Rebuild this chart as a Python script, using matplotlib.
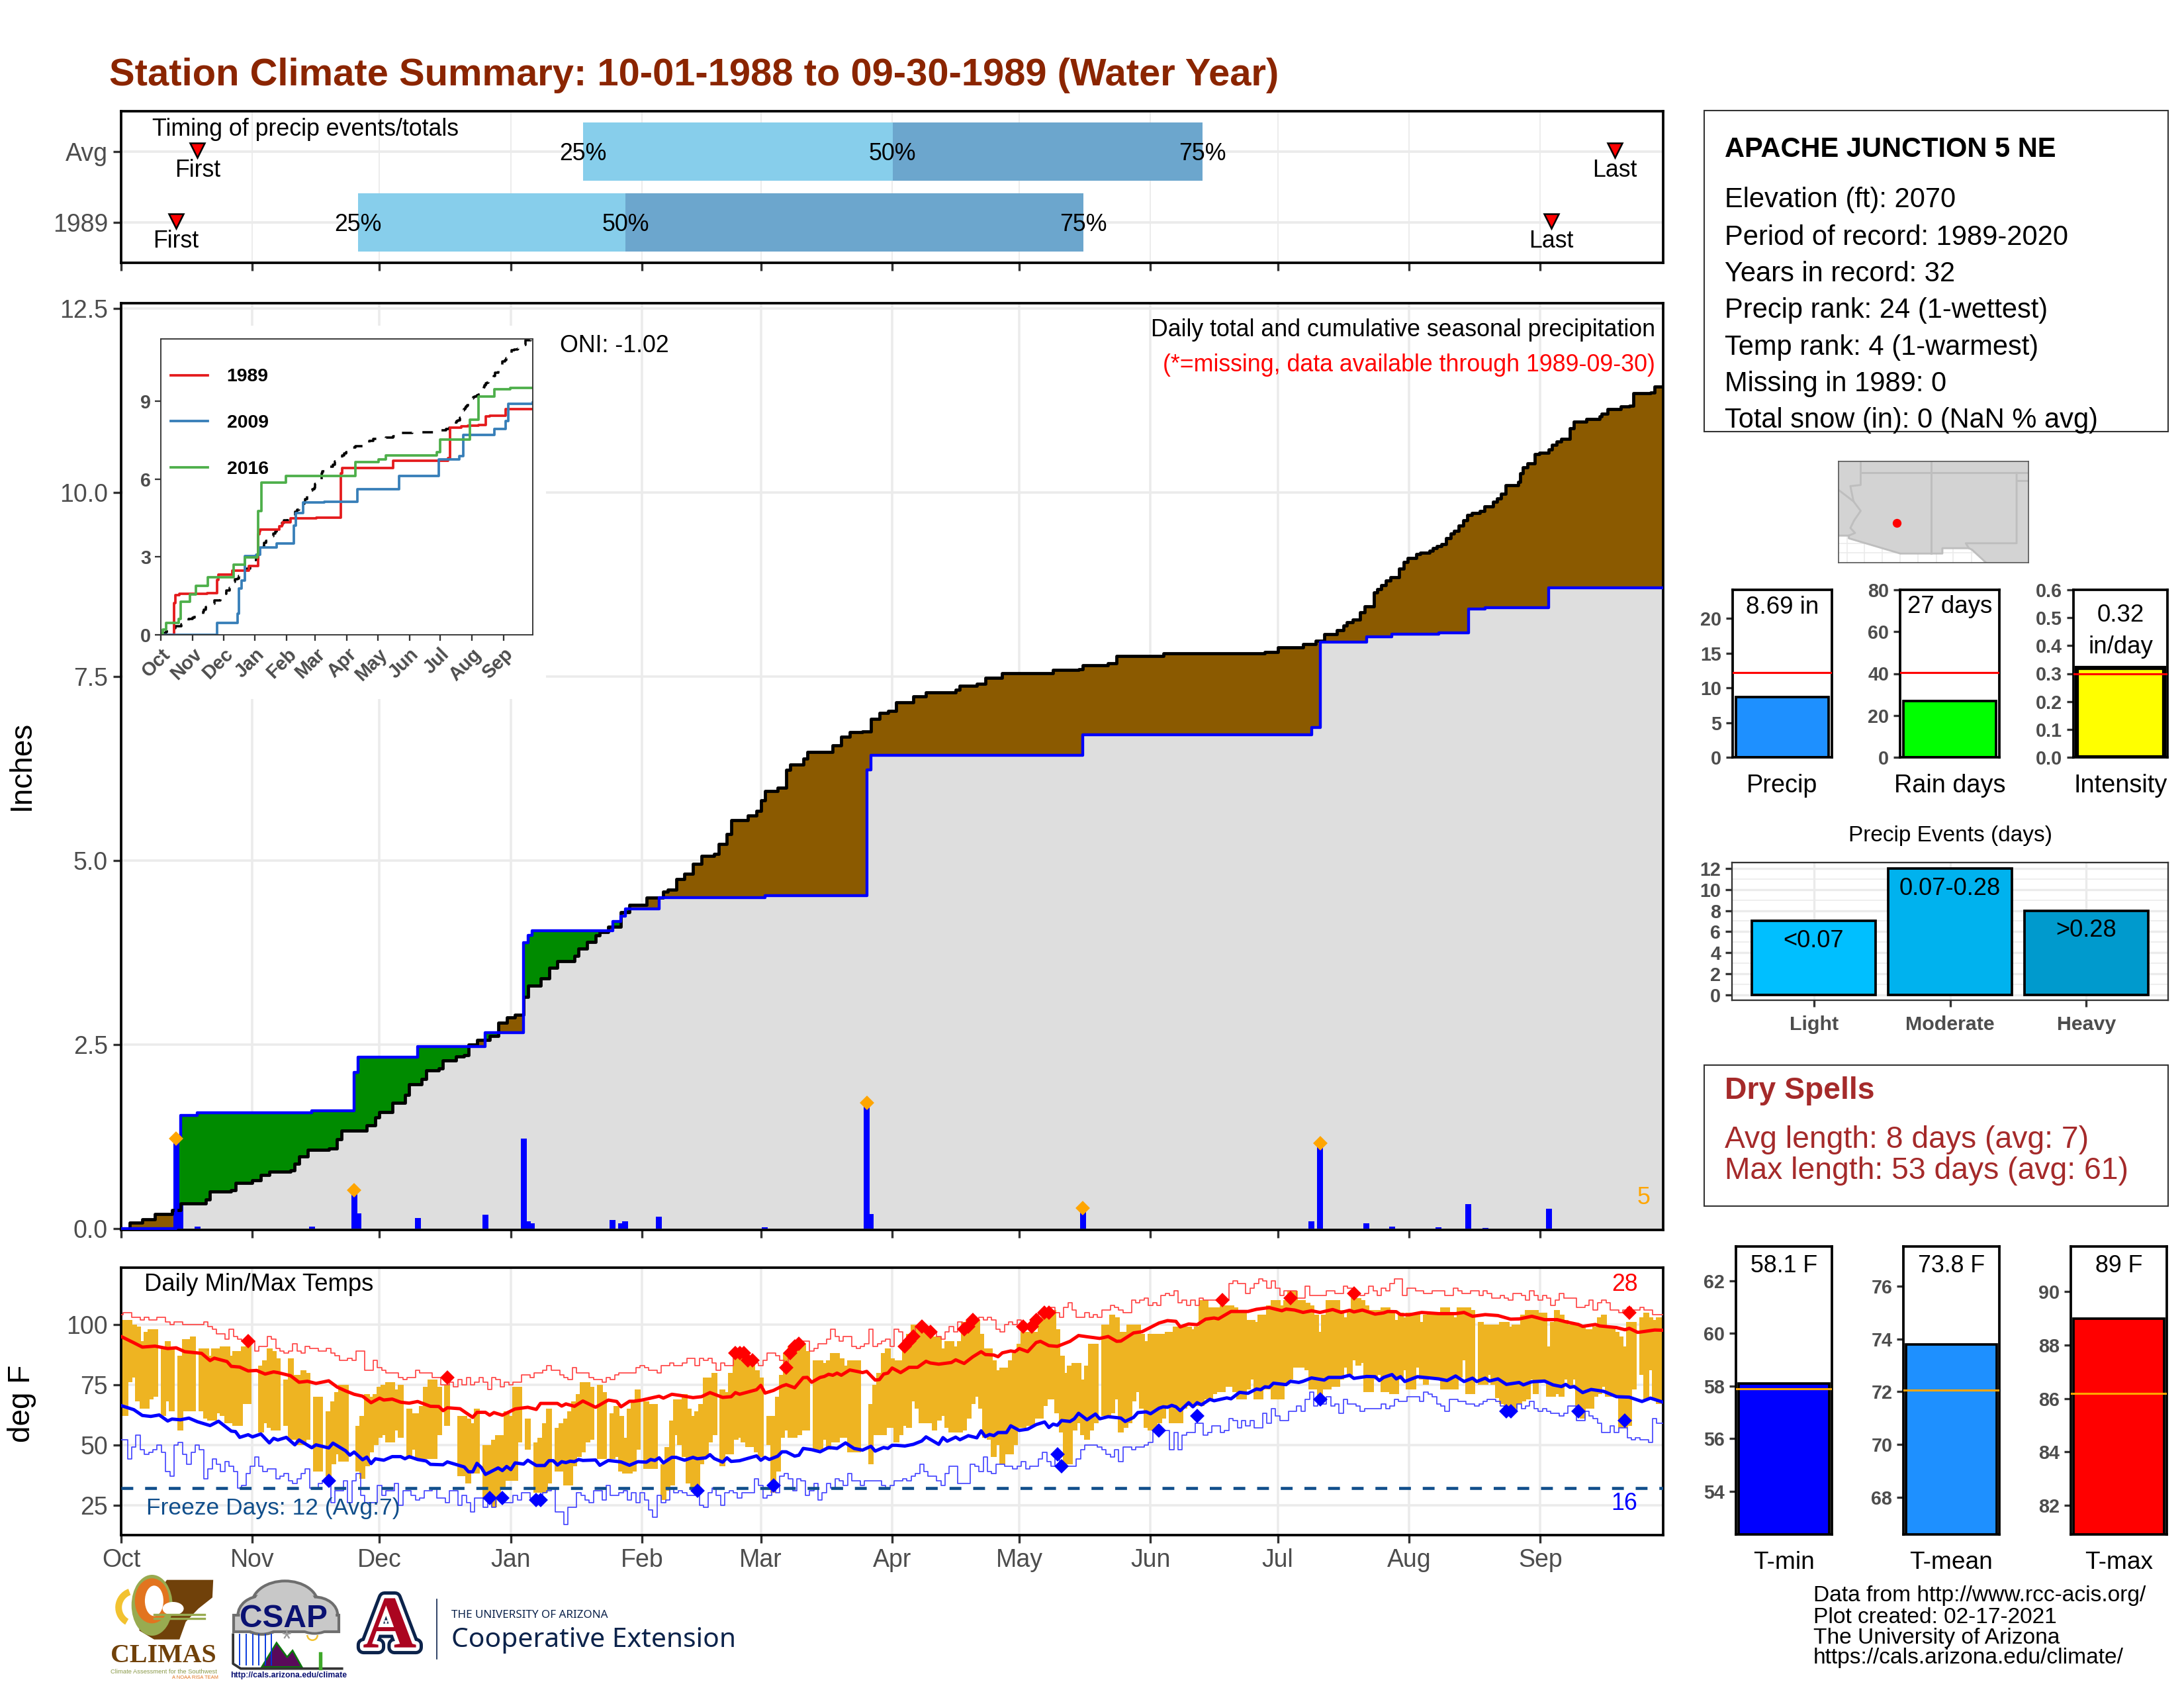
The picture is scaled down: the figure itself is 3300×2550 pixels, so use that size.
import numpy as np
import matplotlib
matplotlib.use('Agg')
import matplotlib.pyplot as plt
from matplotlib.patches import Rectangle, Polygon, Ellipse, Wedge
import matplotlib.patheffects as pe

plt.rcParams['font.family'] = ['Liberation Sans', 'DejaVu Sans']
N = np.nan

MONTH_DAYS = [0, 31, 61, 92, 123, 151, 182, 212, 243, 273, 304, 335]
MONTHS = ['Oct', 'Nov', 'Dec', 'Jan', 'Feb', 'Mar', 'Apr', 'May', 'Jun', 'Jul', 'Aug', 'Sep']

# ---- timing panel (day of water year)
TIMING_ROWS = ['1989', 'Avg']
Q25 = [55.9, 109]
Q50 = [119.1, 182.1]
Q75 = [227.2, 255.2]
FIRST = [12.9, 18]
LAST = [337.6, 352.6]

# ---- cumulative precipitation
AVG_DAY = [0, 2, 5, 8, 12, 14, 20, 21, 26, 27, 31, 33, 35, 40, 41, 42, 44, 49, 51, 52, 58, 60, 61, 63, 64, 67, 68, 71, 72, 75, 76,
           79, 81, 82, 84, 87, 89, 91, 93, 95, 96, 99, 101, 103, 107, 108, 110, 112, 113, 115, 118, 120, 124, 128, 129, 131, 133,
           135, 137, 140, 141, 143, 144, 148, 150, 151, 152, 155, 157, 158, 161, 162, 168, 170, 172, 175, 177, 179, 181, 183, 187,
           190, 197, 198, 202, 204, 208, 216, 220, 226, 227, 233, 235, 246, 270, 273, 279, 282, 284, 287,
           288.6, 289.4, 290.7, 292.5, 293.6, 295.7, 296.5, 297.5, 298.6, 299.6, 301.6, 302.7, 303.7, 305.7, 306.7, 308.8, 309.6, 310.6, 311.7,
           312.7, 313.8, 314.7, 315.8, 316.8, 317.7, 318.8, 320.7, 321.8, 323.8, 324.8, 325.8, 326.8, 329.8, 330.2, 330.9, 331.9, 333.7, 334.8,
           336.9, 337.8, 338.9, 340, 341.9, 342.9, 345.8, 349, 349.4, 350.8, 354, 356, 357, 361, 362, 364]
AVG_CUM = [0, .08, .13, .2, .25, .34, .40, .50, .52, .62, .66, .73, .77, .79, .88, .98, 1.07, 1.09, 1.21, 1.33, 1.40, 1.51, 1.58, 1.58, 1.71, 1.82, 1.96,
           2.03, 2.15, 2.18, 2.28, 2.34, 2.36, 2.5, 2.56, 2.62, 2.8, 2.87, 2.9, 3.15, 3.3, 3.4, 3.54, 3.63, 3.70, 3.8, 3.89, 3.98, 4.03, 4.1, 4.3, 4.4,
           4.5, 4.58, 4.6, 4.75, 4.82, 4.95, 5.06, 5.09, 5.22, 5.36, 5.55, 5.61, 5.67, 5.82, 5.94, 5.99, 6.23, 6.30, 6.38, 6.47, 6.56, 6.68, 6.74,
           6.75, 6.92, 7.0, 7.03, 7.15, 7.23, 7.28, 7.32, 7.37, 7.4, 7.48, 7.54, 7.54, 7.59, 7.6, 7.65, 7.68, 7.78, 7.81, 7.83, 7.89, 7.94, 7.98, 8.07, 8.13,
           8.19, 8.24, 8.27, 8.37, 8.45, 8.64, 8.69, 8.74, 8.80, 8.85, 8.96, 9.05, 9.11, 9.16, 9.18, 9.21, 9.24, 9.27, 9.30,
           9.38, 9.44, 9.48, 9.55, 9.62, 9.69, 9.72, 9.75, 9.81, 9.87, 9.92, 9.98, 10.1, 10.14, 10.26, 10.34, 10.39, 10.52, 10.54,
           10.58, 10.65, 10.69, 10.73, 10.87, 10.96, 11.0, 11.03, 11.07, 11.13, 11.17, 11.18, 11.35, 11.36, 11.44, 11.44]
RAIN_DAY = [13, 14, 18, 45, 55, 56, 70, 86, 95, 96, 97, 116, 118, 119, 127, 152, 176, 177, 227, 281, 283, 294, 300, 311, 318, 322, 337]
RAIN_IN = [1.22, .32, .03, .03, .52, .21, .14, .19, 1.22, .10, .07, .12, .07, .10, .16, .02, 1.71, .20, .28, .10, 1.16, .07, .03, .02, .33, .01, .27]
TOP_DAY = [13, 55, 176, 227, 283]
TOP_IN = [1.22, .52, 1.71, .28, 1.16]

# ---- inset comparison years
Y2009_DAY = [0, 55, 75, 76, 79, 82, 93, 97, 113, 130, 132, 139, 160, 192, 233, 272, 292, 296, 326, 337, 340, 364]
Y2009_CUM = [0, .45, .82, 1.78, 2.09, 3.03, 3.08, 3.37, 3.51, 4.22, 4.69, 5.1, 5.13, 5.6, 6.12, 6.77, 6.88, 7.71, 7.93, 8.24, 8.91, 8.96]
Y2016_DAY = [0, 2, 5, 17, 19, 28, 34, 46, 71, 82, 94, 95, 98, 122, 190, 213, 220, 270, 273, 302, 311, 326, 342, 364]
Y2016_CUM = [0, .2, .45, .6, 1.27, 1.55, 1.89, 2.23, 2.71, 2.99, 3.1, 4.78, 5.86, 6.12, 6.66, 6.77, 6.92, 7.05, 7.53, 8.3, 9.18, 9.46, 9.51, 9.52]

# ---- daily temperature range
TMAX = [102,102,102,100,99,93,97,98,98,N, 90,93,90,N,87,94,94,95,N,90, 90,87,90,90,91,91,87,89,89,91,
        92,N,N,83,85,90,89,86,N,77, 86,79,79,81,80,N,70,70,N,64, 68,72,75,75,N,N,58,62,71,70,
        71,74,75,76,76,73,75,N,65,63, 63,66,74,77,77,74,N,75,N,N, 62,62,61,59,65,N,50,50,52,54,
        54,64,62,74,74,N,61,N,51,53, 59,65,N,57,59,61,64,68,71,76, 76,74,N,75,72,N,63,66,62,53,
        65,68,73,N,68,67,67,N,42,49, 60,69,69,71,65,62,64,67,78,78, 80,N,73,72,80,87,87,87,87,87,
        81,78,N,62,62,70,79,88,91,91, 92,92,89,N,85,85,84,85,88,88, 86,83,85,85,85,N,N,67,75,80,
        88,90,86,85,85,92,96,100,100,97, 97,97,95,95,90,93,93,91,93,101, 102,102,102,96,90,90,85,81,82,82,
        85,88,92,97,97,97,97,103,106,106, 106,98,87,80,83,84,84,77,83,92, 92,N,100,100,104,103,97,97,100,100,
        100,96,93,96,96,96,96,97,97,99, 99,99,99,98,99,110,110,107,107,107, 108,108,108,107,106,106,102,102,101,104,
        104,108,110,110,108,110,114,114,110,110, 109,108,104,97,104,110,110,110,106,103, 106,111,111,110,108,106,106,106,107,107,
        106,102,105,103,105,105,105,101,104,105, 105,105,107,107,105,103,107,107,107,106, N,101,100,100,100,100,101,101,99,100,
        100,104,106,106,106,105,105,91,101,106, 104,102,100,100,100,100,98,98,99,103, 104,99,99,97,95,91,101,101,N,103,
        105,103,102,103,103]
TMIN = [62,62,76,78,68,65,65,69,70,N, 62,68,64,N,56,64,64,64,N,64, 61,60,60,63,62,59,59,58,58,67,
        67,N,N,55,59,57,56,56,N,58, 52,52,50,50,52,N,39,39,N,37, 42,46,43,43,N,N,39,36,41,47,
        50,53,54,51,51,56,53,N,44,48, 44,44,44,44,44,54,N,58,N,N, 37,37,34,38,38,N,28,28,24,28,
        32,35,35,35,51,N,48,N,30,30, 30,34,N,39,39,33,33,41,45,47, 51,52,N,44,44,N,44,45,39,38,
        38,39,48,N,40,40,40,N,27,31, 33,54,50,45,34,32,32,42,45,51, 54,N,41,46,46,52,53,51,49,49,
        47,45,N,50,30,39,53,56,53,53, 54,56,56,N,48,48,52,48,51,51, 53,53,47,47,47,N,N,42,54,54,
        54,57,57,51,54,58,57,68,65,59, 59,59,56,60,62,57,55,55,55,56, 61,67,70,65,53,52,45,50,42,46,
        46,50,57,57,58,58,61,61,66,69, 69,63,55,42,42,56,59,54,52,56, 59,N,62,62,63,69,55,57,59,68,
        72,65,57,56,56,59,61,65,59,59, 59,65,66,66,66,66,69,69,71,72, 72,74,74,72,69,69,73,77,69,69,
        73,73,69,69,69,75,77,82,82,82, 81,73,73,69.5,73,73,74,74,77,82, 79,85,83,84,72,72,77,79,72,72,
        71,71,77,81,73,73,82,77,75,77, 77,77,73,73,73,73,78,85,71,71, N,75,75,79,75,69.5,67,65,65,65,
        67,68,69,77,71,76,76,70,70,71, 70,77,74,77,62,61,65,65,70,71, 74,70,70,70,57,57,58,73,N,79,
        69,81,69,67,67]

# ---- daily records
REC_HI = [104,105,105,103,103,102,103,102,102,103, 103,101,100,101,101,100,100,100,100,100, 101,99,98,96,96,94,98,95,94,93,
          93,93,89,91,91,95,94,90,89,88, 89,92,89,88,91,90,90,89,89,90, 88,87,85,85,86,85,89,89,81,81,
          85,82,81,80,80,80,78,77,78,78, 81,80,80,80,78,78,75,75,76,74, 77,75,78,75,76,78,76,73,78,77,
          74,76,75,76,76,79,79,78,80,80, 81,83,81,81,79,78,77,82,80,80, 80,78,77,77,76,78,77,79,80,80,
          80,80,82,83,82,81,81,80,83,83, 84,83,83,84,86,86,83,86,85,86, 84,81,84,83,83,88,88,88,85,85,
          84,83,85,88,88,87,85,82,88,91, 92,93,93,89,90,92,92,94,98,95, 93,95,95,91,90,91,92,98,91,92,
          93,94,91,98,97,92,93,95,99,99, 99,97,97,95,94,97,99,97,101,98, 99,102,102,103,102,103,102,98,97,100,
          101,100,102,99,100,99,102,105,105,105, 107,105,103,107,109,106,103,103,105,103, 104,103,106,106,108,107,106,105,105,110,
          109,110,111,108,109,108,112,113,112,114, 109,110,108,110,108,111,110,110,110,110, 110,110,117,118,117,117,113,115,117,119,
          118,115,118,115,112,114,114,114,111,111, 116,112,112,112,112,114,114,113,113,116, 115,113,113,112,113,116,114,112,115,114,
          117,119,119,112,115,115,114,114,113,113, 114,114,114,112,112,115,114,113,113,114, 114,112,114,113,111,111,112,111,110,113,
          113,112,110,114,112,110,112,111,108,110, 113,111,111,111,107,107,108,110,106,109, 110,109,106,106,105,106,107,106,106,107,
          106,106,104,104,104]
REC_LO = [52,52,44,49,54,48,46,47,48,50, 47,39,37,50,51,46,42,47,50,48, 36,40,44,42,39,43,41,39,32,33,
          38,41,45,41,39,40,40,36,37,38, 35,34,36,38,40,32,32,34,35,35, 26,31,31,35,26,35,38,29,26,26,
          26,33,29,31,31,34,25,31,31,29, 27,28,31,31,32,28,28,26,31,31, 25,29,26,22,28,28,24,29,24,28,
          26,26,26,29,27,30,30,28,27,28, 30,31,32,22,22,17,24,24,30,29, 27,26,31,31,27,33,29,29,30,31,
          27,30,26,30,27,23,20,29,26,27, 32,30,31,30,29,29,32,25,24,30, 32,29,25,30,31,30,28,30,30,30,
          36,33,28,29,32,30,37,38,36,31, 36,35,29,31,34,27,30,34,32,36, 35,33,38,35,35,33,35,35,35,35,
          33,32,33,35,35,36,35,37,38,42, 39,37,37,35,33,38,41,41,34,34, 34,42,41,39,45,39,38,42,42,41,
          41,40,41,43,40,41,41,44,47,43, 41,46,41,41,41,41,44,48,50,50, 50,49,48,46,45,48,43,49,49,48,
          49,49,50,51,56,56,56,56,48,55, 48,54,55,55,59,59,54,55,58,58, 55,56,61,60,57,60,58,60,57,57,
          63,59,65,62,60,60,64,64,66,64, 69,72,66,67,67,70,66,67,63,69, 67,67,66,64,65,65,65,65,67,65,
          66,69,68,68,70,70,70,68,72,71, 70,67,66,64,69,69,68,68,67,67, 66,67,68,69,69,68,66,64,64,64,
          67,65,66,68,65,64,65,64,63,63, 62,63,66,66,60,60,64,62,61,59, 55,55,58,55,57,57,53,52,53,52,
          52,51,61,59,59]

HOT_DAY = [30, 77, 145, 146, 147, 148, 149, 157, 158, 159, 160, 185, 186, 187, 189, 191, 199, 200, 201, 213, 215, 216, 218, 219, 260, 276, 291, 356]
HOT_T = [93, 78, 88, 88, 88, 85, 85, 82, 88, 91, 92, 91, 93, 95, 99, 97, 98, 99, 102, 99, 99, 102, 105, 105, 110, 111, 113, 105]
COLD_DAY = [49, 87, 90, 98, 99, 136, 154, 221, 222, 245, 254, 283, 327, 328, 344, 355]
COLD_T = [35, 28, 28, 27, 27, 31, 33, 46, 41, 56, 62, 69, 64, 64, 64, 60]

# ---- smoothed daily normals
NHI_DAY = [0,3,5,8,11,13,15,19,21,22,25,26,28,30,32,34,36,37,40,42,44,46,49,51,53,55,57,59,61,62,64,66,68,70,73,75,76,77,80,83,84,86,87,88,90,
           93,96,98,99,103,104,105,107,109,112,115,117,118,120,121,123,127,128,130,132,135,137,139,142,144,145,146,150,151,152,154,156,157,159,161,162,163,165,166,167,168,169,170,172,174,175,176,178,179,180,181,182,
           184,186,188,190,191,193,196,197,199,201,203,204,206,207,208,210,211,212,214,216,217,219,221,224,226,228,231,233,235,236,239,241,245,247,249,250,252,254,256,258,259,262,266,268,271,274,275,
           277,279,281,283,286,288,290,291,293,296,298,299,301,302,304,307,311,315,317,319,322,325,328,330,333,336,339,341,344,345,348,349,353,355,356,358,360,362,364]
NHI_T = [95,92.4,90.6,91,90,90.3,88.7,88,85,86,84.6,82.6,82.3,80.7,80.9,79.4,80.3,80,78.7,76,76.4,75.5,76.6,74,72.4,71,70.2,67.5,69.4,68.6,69,67.7,67.3,68,66,65.9,64.2,65.4,65,61.4,63.5,63.5,62.3,63.4,62.3,
         64.9,65.6,64.7,67.2,67.2,66.1,67,66,68.2,65.6,68.6,68,65.8,68.1,68.1,68.6,70.2,69.4,71,70.5,69.6,70,71.7,69.7,70,71.7,71,72.9,74.7,71.5,72.6,74.4,75,73.7,77.9,78,76,78,78.4,79.3,78.9,79.8,78.9,81.1,80.4,80,80.5,76.9,77.1,79.4,79.8,81.9,
         80,82.2,82.2,84.7,84,83.5,84.2,85.3,83.8,86.5,88.7,87.5,87.3,86.6,88.2,89,88.7,90,88.7,92.5,93,91.2,90.9,93,95.4,94.9,94.2,95,93,93.1,96.5,97,100.6,101.6,101.3,99,100.2,99.9,102.2,102.7,102.3,105.4,105.4,106.3,107,105.7,106.4,
         106,105,105.7,105,106.2,105,105.9,105.2,106,104.3,104.8,105.4,105.3,104.1,104,105,104.5,104.5,105,103.4,104.1,103.7,102.2,102.3,103.4,102,102,101.1,100,99.2,100,99.4,98.7,97.8,98.4,96.7,97.2,97.7,97.6]
NLO_DAY = [0,3,5,7,9,11,12,14,16,18,21,23,26,27,28,30,31,33,35,36,37,39,41,42,45,46,49,50,53,54,55,57,58,59,60,62,64,66,67,68,70,72,73,76,77,81,82,83,84,85,86,89,90,91,
           92,93,95,96,98,100,101,102,103,104,105,106,107,108,109,112,113,115,118,120,122,124,125,126,127,128,130,131,133,135,136,138,139,140,142,143,144,146,150,151,152,153,155,156,157,159,160,161,163,165,167,169,171,173,175,177,178,180,181,182,183,
           185,187,189,190,193,194,195,197,198,200,202,203,204,205,206,207,209,210,212,214,216,218,219,220,221,222,224,225,226,228,230,231,233,236,237,239,240,242,243,245,246,247,248,249,250,252,253,254,255,257,258,261,262,264,266,268,269,270,271,272,275,
           276,278,279,281,284,285,288,290,291,294,296,297,298,300,301,302,303,306,311,313,315,317,319,320,322,323,325,327,330,331,333,336,338,340,341,342,343,345,347,350,353,356,359,361,364]
NLO_T = [66.3,64.6,62.2,61.8,62.4,59.9,60.7,60.4,61.1,59.6,58,59.8,55.7,55.5,53.1,54.2,53.3,54.5,50.8,52.7,52,53.1,50,52,48.8,50,48.7,50.7,47.5,45.7,47,43.8,44.9,42.2,44.2,43.6,45.1,45.1,44.2,45.1,43.9,43.3,41.9,41.7,42.9,40.8,38.8,38.8,42.3,40.6,37.7,40.4,39.3,41,
         39.7,42.5,42,43.6,41.4,41.4,43.4,43.4,41.6,43,42.6,43.2,43,43.9,43.5,43.7,41.5,43.5,42.9,41.5,43,42.8,43.9,43.5,44.6,42.5,44.8,44.8,43.6,44.8,44.2,44.6,45.9,44.3,42.8,44.6,43.1,43.4,45.4,43.6,44.8,43.9,45.3,47.1,47.1,45.3,45.7,48.5,48,47.1,48.9,48.5,50.8,48.5,47.8,49.4,47.4,48.9,48.5,49.8,49.8,
         49.5,50.2,51.6,53.3,50.2,53,51.5,53.2,52.1,53.8,52.9,55.8,53.4,54.3,53.8,55.1,55.1,57.9,56,56.5,58.4,59.5,57.2,58.6,58.1,60.1,59.7,60.8,63.1,60.4,62.8,60.8,61.7,61.1,59.7,61.4,63.4,63.7,62.9,65.2,65.8,65.6,66.4,65.8,64.2,67.5,65.8,67.5,66.6,68.9,68.3,69.5,69.1,71.8,71.4,73.2,72.9,74.1,73.9,75.6,75,
         76.4,75.9,76.4,77.8,76.9,78,78,78.9,77.6,78.4,78.3,76.7,78,79.2,77.4,78.3,76.3,78.3,77.4,76.7,78.6,76.3,77.7,76.3,77.7,76.5,77.4,75.1,75.9,74.9,76.2,76.5,74.9,74.2,75.1,73.9,74.2,71.7,73,72.2,70,69.8,68,69.4,67.7]

# ---- summary bars
SUMMARY_VAL = [8.69, 27, 0.32]
SUMMARY_AVG = [12.2, 40.5, 0.30]
SUMMARY_LAB = ['Precip', 'Rain days', 'Intensity']
SUMMARY_TXT = ['8.69 in', '27 days', '0.32\nin/day']
EVENT_LAB = ['Light', 'Moderate', 'Heavy']
EVENT_VAL = [7, 12, 8]
EVENT_TXT = ['<0.07', '0.07-0.28', '>0.28']
TBAR_VAL = [58.1, 73.8, 89]
TBAR_AVG = [57.9, 72.05, 86.2]
TBAR_LAB = ['T-min', 'T-mean', 'T-max']
TBAR_TXT = ['58.1 F', '73.8 F', '89 F']

W, H = 3300, 2550
fig = plt.figure(figsize=(11, 8.5), dpi=300, facecolor='white')
GRID = '#EBEBEB'
TICKC = '#333333'
LABC = '#4D4D4D'


def pax(l, t, r, b, **kw):
    return fig.add_axes([l / W, 1 - b / H, (r - l) / W, (b - t) / H], **kw)


def style(ax, slw=0.9):
    for s in ax.spines.values():
        s.set_linewidth(slw)
        s.set_color('black')
    ax.tick_params(length=2.8, width=0.8, color=TICKC, labelcolor=LABC, labelsize=9, pad=2)
    ax.set_axisbelow(True)


def stepv(days, vals, grid):
    idx = np.searchsorted(days, grid, side='right') - 1
    return np.asarray(vals, float)[idx]


# ---------- timing panel
ax = pax(183, 167.7, 2513, 397)
style(ax)
ax.set_xlim(0, 364)
ax.set_ylim(0.43, 2.57)
ax.set_xticks(MONTH_DAYS)
ax.set_xticklabels([])
ax.set_yticks([1, 2])
ax.set_yticklabels(TIMING_ROWS)
ax.grid(True, axis='y', color=GRID, lw=0.9)
ax.grid(True, axis='x', color=GRID, lw=0.45)
for r in range(2):
    y = r + 1
    ax.barh(y, Q50[r] - Q25[r], left=Q25[r], height=0.82, color='#87CEEB', zorder=2)
    ax.barh(y, Q75[r] - Q50[r], left=Q50[r], height=0.82, color='#6CA6CD', zorder=2)
    for q, t in zip((Q25[r], Q50[r], Q75[r]), ('25%', '50%', '75%')):
        ax.text(q, y - 0.035, t, ha='center', va='center', fontsize=8.6, zorder=4)
    for q, t in zip((FIRST[r], LAST[r]), ('First', 'Last')):
        ax.plot([q], [y + 0.02], marker='v', ms=5.5, mfc='red', mec='black', mew=0.6, zorder=4)
        ax.text(q, y - 0.27, t, ha='center', va='center', fontsize=8.6, zorder=4)
ax.text(7.3, 2.31, 'Timing of precip events/totals', ha='left', va='center', fontsize=8.6, zorder=4)

# ---------- main cumulative panel
ax = pax(183, 458, 2513, 1858)
style(ax)
ax.set_xlim(0, 364)
ax.set_ylim(-0.018, 12.57)
ax.set_xticks(MONTH_DAYS)
ax.set_xticklabels([])
ax.set_yticks([0, 2.5, 5, 7.5, 10, 12.5])
ax.set_yticklabels(['0.0', '2.5', '5.0', '7.5', '10.0', '12.5'])
ax.grid(True, color=GRID, lw=0.85)
ax.set_ylabel('Inches', fontsize=11, color='black')
ax.yaxis.set_label_coords(-0.055, 0.5014)

yr_days = np.array([0] + RAIN_DAY, float)
yr_cum = np.cumsum([0] + RAIN_IN)
avg_days = np.array(AVG_DAY, float)
grid = np.unique(np.concatenate([avg_days, yr_days, [364.0]]))
g_avg = stepv(avg_days, AVG_CUM, grid)
g_yr = stepv(yr_days, yr_cum, grid)
low = np.minimum(g_avg, g_yr)
ax.fill_between(grid, 0, low, step='post', color='#DEDEDE', lw=0, zorder=2)
ax.fill_between(grid, g_avg, np.maximum(g_avg, g_yr), step='post', color='#008B00', lw=0, zorder=2)
ax.fill_between(grid, g_yr, np.maximum(g_avg, g_yr), step='post', color='#8B5A00', lw=0, zorder=2)
ax.bar(RAIN_DAY, RAIN_IN, width=1.4, color='#0000FF', lw=0, zorder=3)
ax.plot(avg_days, AVG_CUM, drawstyle='steps-post', color='black', lw=1.15, zorder=4)
ax.plot(yr_days.tolist() + [364], yr_cum.tolist() + [yr_cum[-1]], drawstyle='steps-post', color='#0000FF', lw=1.05, zorder=5)
ax.plot(TOP_DAY, TOP_IN, ls='', marker='D', ms=2.8, mfc='orange', mec='orange', zorder=6)
ax.text(0.9948, 0.971, 'Daily total and cumulative seasonal precipitation', transform=ax.transAxes, ha='right', va='center', fontsize=8.6, zorder=6)
ax.text(0.9948, 0.933, '(*=missing, data available through 1989-09-30)', transform=ax.transAxes, ha='right', va='center', fontsize=8.6, color='red', zorder=6)
ax.text(0.9915, 0.0345, '5', transform=ax.transAxes, ha='right', va='center', fontsize=8.6, color='orange', zorder=6)

# inset background and inset
bg = pax(186, 492, 825, 1056)
bg.set_facecolor('white')
bg.set_xticks([])
bg.set_yticks([])
for s in bg.spines.values():
    s.set_visible(False)
bg.set_zorder(2)
ins = pax(243.4, 511.6, 805.3, 959)
ins.set_zorder(3)
ins.set_xlim(0, 364)
ins.set_ylim(0, 11.41)
for s in ins.spines.values():
    s.set_linewidth(0.45)
    s.set_color(TICKC)
ins.set_xticks(MONTH_DAYS)
ins.set_xticklabels(MONTHS, rotation=45, ha='right', rotation_mode='anchor', fontweight='bold', fontsize=6.9, color=LABC)
ins.set_yticks([0, 3, 6, 9])
ins.set_yticklabels(['0', '3', '6', '9'], fontweight='bold', fontsize=6.9, color=LABC)
ins.tick_params(length=2.2, width=0.55, color=TICKC, pad=1.5)
l0, = ins.plot(avg_days, AVG_CUM, drawstyle='steps-post', color='black', lw=0.85, dashes=(4.5, 4.5))
l1, = ins.plot(yr_days.tolist() + [364], yr_cum.tolist() + [yr_cum[-1]], drawstyle='steps-post', color='#E41A1C', lw=0.9)
l2, = ins.plot(Y2009_DAY, Y2009_CUM, drawstyle='steps-post', color='#377EB8', lw=0.9)
l3, = ins.plot(Y2016_DAY, Y2016_CUM, drawstyle='steps-post', color='#4DAF4A', lw=0.9)
ins.legend([l1, l2, l3], ['1989', '2009', '2016'], loc='upper left', bbox_to_anchor=(0.005, 0.925), frameon=False,
           prop={'weight': 'bold', 'size': 6.8}, labelspacing=1.55, handlelength=2.0, handletextpad=1.0, borderaxespad=0, borderpad=0.4)

# ---------- temperature panel
ax = pax(183, 1915, 2513, 2319)
style(ax)
ax.set_xlim(0, 364)
ax.set_ylim(12.5, 123.6)
ax.set_xticks(MONTH_DAYS)
ax.set_xticklabels(MONTHS)
ax.set_yticks([25, 50, 75, 100])
ax.grid(True, color=GRID, lw=0.85)
ax.set_ylabel('deg F', fontsize=11, color='black')
ax.yaxis.set_label_coords(-0.055, 0.4926)
days = np.arange(len(TMAX))
tmax = np.array(TMAX, float)
tmin = np.array(TMIN, float)
ax.bar(days, tmax - tmin, bottom=tmin, width=1.4, color='#EEB422', lw=0, zorder=2)
ax.plot(np.arange(len(REC_HI)), REC_HI, drawstyle='steps-mid', color='#FF4040', lw=0.4, zorder=3)
ax.plot(np.arange(len(REC_LO)), REC_LO, drawstyle='steps-mid', color='#4040FF', lw=0.4, zorder=3)
ax.plot(NHI_DAY, NHI_T, color='#FF0000', lw=1.2, zorder=4)
ax.plot(NLO_DAY, NLO_T, color='#0000FF', lw=1.2, zorder=4)
ax.axhline(32, color='#104E8B', lw=1.1, dashes=(3.9, 3.9), zorder=4)
ax.plot(HOT_DAY, HOT_T, ls='', marker='D', ms=2.8, mfc='red', mec='red', zorder=5)
ax.plot(COLD_DAY, COLD_T, ls='', marker='D', ms=2.8, mfc='#0000FF', mec='#0000FF', zorder=5)
ax.text(5.5, 116.5, 'Daily Min/Max Temps', fontsize=8.75, ha='left', va='center', zorder=6)
ax.text(6, 23.7, 'Freeze Days: 12 (Avg:7)', fontsize=8.5, color='#104E8B', ha='left', va='center', zorder=6)
ax.text(358, 116.5, '28', fontsize=8.6, color='red', ha='right', va='center', zorder=6)
ax.text(358, 25.5, '16', fontsize=8.6, color='#0000FF', ha='right', va='center', zorder=6)


# ---------- small summary bars
def small_bar(l, t, r, b, ylim, ticks, labels, val, avg, lab, txt, ty, color, bw, hlc, elw=0.9):
    a = pax(l, t, r, b)
    style(a)
    a.set_xlim(-0.5, 0.5)
    a.set_ylim(*ylim)
    a.set_xticks([0])
    a.set_xticklabels([lab], fontsize=9.1, color='black')
    a.tick_params(axis='x', length=0, pad=6)
    a.set_yticks(ticks)
    a.set_yticklabels(labels, fontweight='bold', fontsize=6.9, color=LABC)
    a.tick_params(axis='y', pad=1.5, length=2.5, width=0.8)
    a.bar(0, val, width=bw, color=color, edgecolor='black', lw=elw, zorder=2)
    a.axhline(avg, color=hlc, lw=0.75, zorder=3)
    a.text(0, ty, txt, ha='center', va='center', fontsize=8.8, linespacing=1.5, zorder=4)
    return a


small_bar(2618, 891, 2768, 1144, (0, 24.1), [0, 5, 10, 15, 20], ['0', '5', '10', '15', '20'], SUMMARY_VAL[0], SUMMARY_AVG[0],
          SUMMARY_LAB[0], SUMMARY_TXT[0], 21.6, '#1E90FF', 0.93, 'red')
small_bar(2871, 891, 3021, 1144, (0, 80), [0, 20, 40, 60, 80], ['0', '20', '40', '60', '80'], SUMMARY_VAL[1], SUMMARY_AVG[1],
          SUMMARY_LAB[1], SUMMARY_TXT[1], 71.8, '#00FF00', 0.93, 'red')
small_bar(3133, 891, 3275, 1144, (0, 0.6), [0, .1, .2, .3, .4, .5, .6], ['0.0', '0.1', '0.2', '0.3', '0.4', '0.5', '0.6'], SUMMARY_VAL[2], SUMMARY_AVG[2],
          SUMMARY_LAB[2], SUMMARY_TXT[2], 0.452, '#FFFF00', 0.93, 'red', elw=1.5)

# ---------- precip events
a = pax(2617, 1303, 3276, 1511)
a.set_xlim(0.4, 3.6)
a.set_ylim(-0.5, 12.55)
for s in a.spines.values():
    s.set_linewidth(0.55)
    s.set_color(TICKC)
a.set_axisbelow(True)
a.set_xticks([1, 2, 3])
a.set_xticklabels(EVENT_LAB, fontweight='bold', fontsize=7.3, color=LABC)
a.set_yticks(np.arange(0, 13, 2))
a.set_yticklabels([str(v) for v in range(0, 13, 2)], fontweight='bold', fontsize=6.9, color=LABC)
a.set_yticks(np.arange(1, 13, 2), minor=True)
a.tick_params(which='minor', length=0)
a.tick_params(length=2.5, width=0.8, color=TICKC, pad=1.5)
a.tick_params(axis='x', pad=3)
a.grid(True, which='major', color=GRID, lw=0.8)
a.grid(True, which='minor', axis='y', color=GRID, lw=0.4)
bars = a.bar([1, 2, 3], EVENT_VAL, width=0.91, color=['#00BFFF', '#00B2EE', '#009ACD'], edgecolor='black', lw=0.9, zorder=2)
for x, v, t in zip([1, 2, 3], EVENT_VAL, EVENT_TXT):
    a.text(x, v - 1.9, t, ha='center', va='center', fontsize=8.7, zorder=3)

# ---------- T bars
TB = [(2623, 2768, (52.36, 63.3), [54, 56, 58, 60, 62], '#0000FF'),
      (2876, 3021, (66.6, 77.5), [68, 70, 72, 74, 76], '#1E90FF'),
      (3129, 3274, (80.9, 91.7), [82, 84, 86, 88, 90], '#FF0000')]
for i, (l, r, yl, tk, c) in enumerate(TB):
    a = pax(l, 1883, r, 2318)
    style(a)
    a.set_xlim(-0.5, 0.5)
    a.set_ylim(*yl)
    a.set_xticks([0])
    a.set_xticklabels([TBAR_LAB[i]], fontsize=8.9, color='black')
    a.tick_params(axis='x', length=0, pad=6)
    a.set_yticks(tk)
    a.set_yticklabels([str(v) for v in tk], fontweight='bold', fontsize=6.9, color=LABC)
    a.tick_params(axis='y', pad=1.5, length=2.5, width=0.8)
    a.bar(0, TBAR_VAL[i] - yl[0] + 1, bottom=yl[0] - 1, width=0.95, color=c, edgecolor='black', lw=0.9, zorder=2)
    a.axhline(TBAR_AVG[i], color='orange', lw=0.75, zorder=3)
    a.text(0, yl[1] - (yl[1] - yl[0]) * 0.068, TBAR_TXT[i], ha='center', va='center', fontsize=8.6, zorder=4)

# ---------- map
m = pax(2778, 697, 3065, 850)
m.set_xlim(462, 1071)
m.set_ylim(296, 30)
m.set_xticks([])
m.set_yticks([])
for s in m.spines.values():
    s.set_linewidth(0.4)
    s.set_color('#555555')
for gx in (490, 545, 603, 660, 717, 775, 830, 888):
    m.axvline(gx, color='#EBEBEB', lw=0.4, zorder=0)
for gy in (245, 270):
    m.axhline(gy, color='#EBEBEB', lw=0.4, zorder=0)
LAND = [(462, 30), (1071, 30), (1071, 296), (935, 296), (890, 262), (880, 258), (795, 258), (795, 272), (660, 272), (495, 232), (495, 225), (462, 225)]
m.add_patch(Polygon(LAND, closed=True, fc='#D3D3D3', ec='none', zorder=1))
BC = '#BEBEBE'
BORDERS = [[(533, 30), (533, 60), (1071, 60)], [(760, 30), (760, 272)], [(1033, 60), (1033, 245), (870, 245), (880, 258)],
           [(533, 60), (533, 92), (500, 95), (510, 135), (533, 160), (512, 185), (500, 205), (515, 218), (495, 225), (462, 225)],
           [(462, 105), (510, 135)], [(1033, 80), (1071, 80)],
           [(495, 225), (495, 232), (660, 272), (795, 272), (795, 258), (880, 258), (890, 262), (935, 296)]]
for bl in BORDERS:
    xs, ys = zip(*bl)
    m.plot(xs, ys, color=BC, lw=0.7, zorder=2)
m.plot([649], [192], 'o', color='red', ms=3.2, mew=0, zorder=3)

# ---------- overlay: boxes, text, logos
ov = fig.add_axes([0, 0, 1, 1])
ov.set_xlim(0, W)
ov.set_ylim(H, 0)
ov.axis('off')
ov.set_zorder(10)
ov.patch.set_alpha(0)

ov.text(165, 114, 'Station Climate Summary: 10-01-1988 to 09-30-1989 (Water Year)', color='#8B2500', fontsize=13.9, fontweight='bold', ha='left', va='center')
ov.add_patch(Rectangle((2575, 167), 701, 485, fc='none', ec='#333333', lw=0.5))
ov.text(2606, 226, 'APACHE JUNCTION 5 NE', fontsize=10, fontweight='bold', ha='left', va='center')
INFO = ['Elevation (ft): 2070', 'Period of record: 1989-2020', 'Years in record: 32', 'Precip rank: 24 (1-wettest)',
        'Temp rank: 4 (1-warmest)', 'Missing in 1989: 0', 'Total snow (in): 0 (NaN % avg)']
for t, y in zip(INFO, (302, 359, 414, 469, 525, 580, 635)):
    ov.text(2606, y, t, fontsize=10, ha='left', va='center')
ov.text(2947, 1263, 'Precip Events (days)', fontsize=8.0, ha='center', va='center')
ov.add_patch(Rectangle((2575, 1609), 701, 213, fc='none', ec='#333333', lw=0.5))
ov.text(2606, 1648, 'Dry Spells', fontsize=11.1, fontweight='bold', color='#A52A2A', ha='left', va='center')
ov.text(2606, 1722, 'Avg length: 8 days (avg: 7)', fontsize=11.1, color='#A52A2A', ha='left', va='center')
ov.text(2606, 1769, 'Max length: 53 days (avg: 61)', fontsize=11.1, color='#A52A2A', ha='left', va='center')
FOOT = ['Data from http://www.rcc-acis.org/', 'Plot created: 02-17-2021', 'The University of Arizona', 'https://cals.arizona.edu/climate/']
for t, y in zip(FOOT, (2411, 2443, 2474, 2505)):
    ov.text(2740, y, t, fontsize=8.05, ha='left', va='center')
ov.text(846, 523, 'ONI: -1.02', fontsize=8.6, ha='left', va='center')


def Z(x, y):
    return (150 + x / 1.568, 2350 + y / 3)


def P(pts, **kw):
    ov.add_patch(Polygon([Z(*p) for p in pts], closed=True, **kw))


# CLIMAS mark
BR = '#70410A'
P([(160, 110), (270, 110), (268, 190), (235, 240), (205, 300), (190, 380), (130, 380), (95, 340), (95, 300)], fc=BR, ec='none')
ov.add_patch(Ellipse(Z(125, 225), 62, 92, fc='#98AB50', ec='none'))
ov.add_patch(Ellipse(Z(125, 205), 52, 68, fc='#E2741F', ec='none'))
ov.add_patch(Ellipse(Z(130, 205), 28, 46, fc='white', ec='none'))
ov.add_patch(Ellipse(Z(175, 240), 32, 20, fc='white', ec='none'))
ov.add_patch(Wedge(Z(85, 235), 30, 120, 250, width=10, fc='#F2C230', ec='none'))
ov.plot(*zip(Z(130, 268), Z(250, 268)), color='#98AB50', lw=0.8)
ov.plot(*zip(Z(130, 285), Z(250, 285)), color='#98AB50', lw=0.8)
ov.text(*Z(152, 455), 'CLIMAS', family=['Liberation Serif'], fontweight='bold', fontsize=9.6, color=BR, ha='center', va='center')
ov.text(*Z(152, 525), 'Climate Assessment for the Southwest', fontsize=2.25, color='#8A9A4A', ha='center', va='center')
ov.text(*Z(228, 552), 'A NOAA RISA TEAM', fontsize=1.8, color='#E2741F', ha='center', va='center')

# CSAP mark
CG = '#C8C8C8'
CE = '#6E6E6E'
for (x, y, w, h) in [(440, 220, 100, 70), (385, 270, 72, 58), (510, 270, 70, 55)]:
    ov.add_patch(Ellipse(Z(x, y), w, h, fc=CG, ec=CE, lw=1.0))
ov.add_patch(Rectangle(Z(318, 270), 250 / 1.568, 76 / 3, fc=CG, ec=CE, lw=1.0))
for (x, y, w, h) in [(440, 225, 94, 64), (385, 272, 66, 52), (510, 272, 64, 50)]:
    ov.add_patch(Ellipse(Z(x, y), w, h, fc=CG, ec='none'))
ov.text(*Z(437, 285), 'CSAP', fontsize=11.5, fontweight='bold', color='#0A1172', ha='center', va='center')
ov.plot(*zip(Z(317, 358), Z(317, 490), Z(335, 512), Z(575, 512)), color='#333333', lw=0.9)
for bx in (333, 348, 363, 378, 393, 408):
    ov.plot(*zip(Z(bx, 358), Z(bx, 495)), color='#0033DD', lw=0.45)
P([(385, 505), (420, 395), (445, 460), (458, 430), (480, 505)], fc='#5A0A5A', ec='#0A7A0A', lw=0.6)
ov.text(*Z(444, 385), '*', fontsize=9, color='#999999', ha='center', va='center')
ov.add_patch(Wedge(Z(505, 360), 9, 0, 180, width=2.5, fc='#F2C230', ec='none'))
ov.plot(*zip(Z(524, 445), Z(524, 510)), color='#3FA82A', lw=1.3)
ov.text(*Z(448, 543), 'http://cals.arizona.edu/climate', fontsize=2.95, fontweight='bold', color='#0A1172', ha='center', va='center')

# University of Arizona mark
ov.text(*Z(688, 335), 'A', family=['Liberation Serif'], fontsize=27, fontweight='bold', color='#AB0520', ha='center', va='center',
        path_effects=[pe.withStroke(linewidth=5, foreground='#0C234B'), pe.withStroke(linewidth=2.6, foreground='white')])
ov.plot(*zip(Z(800, 198), Z(800, 468)), color='#0C234B', lw=0.4)
ov.text(682, 2440, 'THE UNIVERSITY OF ARIZONA', family=['Noto Sans'], fontsize=4.1, color='#0C234B', ha='left', va='center')
ov.text(682, 2478, 'Cooperative Extension', family=['Noto Sans'], fontsize=9.8, color='#0C234B', ha='left', va='center')

fig.savefig('out.png', dpi=300)
